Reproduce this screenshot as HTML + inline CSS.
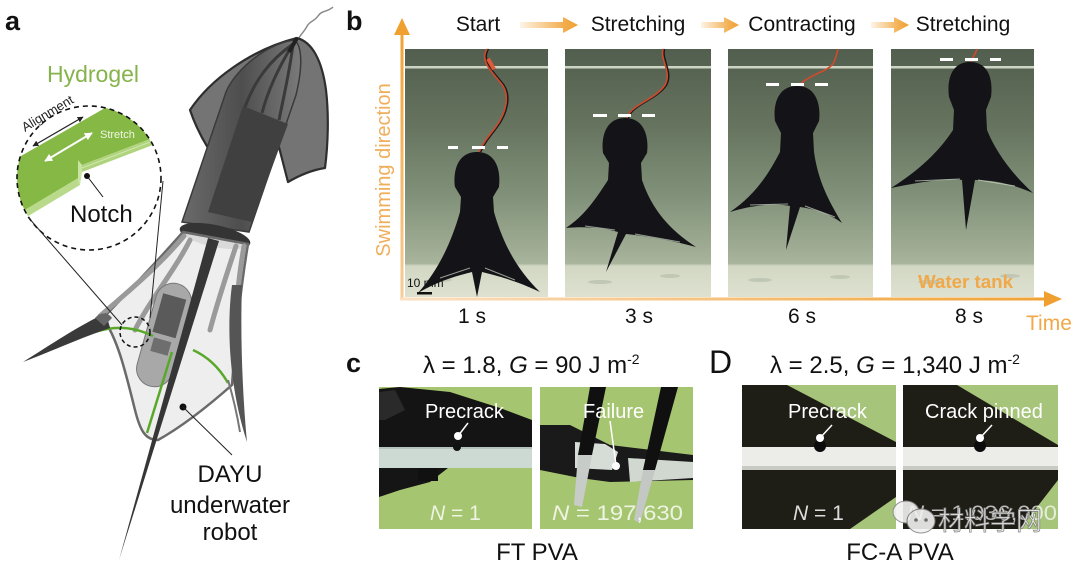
<!DOCTYPE html>
<html><head><meta charset="utf-8">
<style>
html,body{margin:0;padding:0;background:#fff;}
svg{display:block;}
text{font-family:"Liberation Sans","Noto Sans CJK SC",sans-serif;}
</style></head><body>
<svg width="1080" height="569" viewBox="0 0 1080 569" xmlns="http://www.w3.org/2000/svg">
<defs>
 <linearGradient id="tank" x1="0" y1="49" x2="0" y2="297" gradientUnits="userSpaceOnUse">
  <stop offset="0" stop-color="#525e4e"/>
  <stop offset="0.3" stop-color="#65735e"/>
  <stop offset="0.6" stop-color="#82927a"/>
  <stop offset="0.865" stop-color="#a8b49b"/>
  <stop offset="0.875" stop-color="#d2d7c3"/>
  <stop offset="1" stop-color="#dee1d0"/>
 </linearGradient>
 <linearGradient id="hArr" x1="400" y1="0" x2="1062" y2="0" gradientUnits="userSpaceOnUse">
  <stop offset="0" stop-color="#fbe0c2"/>
  <stop offset="1" stop-color="#f0a030"/>
 </linearGradient>
 <linearGradient id="vArr" x1="0" y1="299" x2="0" y2="18" gradientUnits="userSpaceOnUse">
  <stop offset="0" stop-color="#f6cc98"/>
  <stop offset="1" stop-color="#f0a030"/>
 </linearGradient>
 <linearGradient id="hdr" x1="0" y1="0" x2="1" y2="0">
  <stop offset="0" stop-color="#f0a030" stop-opacity="0.12"/>
  <stop offset="0.75" stop-color="#f0a030" stop-opacity="0.85"/>
  <stop offset="1" stop-color="#f0a030"/>
 </linearGradient>
 <linearGradient id="mant" x1="0" y1="0" x2="1" y2="0">
  <stop offset="0" stop-color="#6a6a6a"/>
  <stop offset="0.5" stop-color="#4e4e4e"/>
  <stop offset="1" stop-color="#7a7a7a"/>
 </linearGradient>
 <clipPath id="bigc"><circle cx="89" cy="178" r="72"/></clipPath>
 <marker id="mk" viewBox="0 0 10 10" refX="9" refY="5" markerWidth="5" markerHeight="5" orient="auto-start-reverse"><path d="M0,0 L10,5 L0,10 Z" fill="#222"/></marker>
 <marker id="mkw" viewBox="0 0 10 10" refX="9" refY="5" markerWidth="4" markerHeight="4" orient="auto-start-reverse"><path d="M0,0 L10,5 L0,10 Z" fill="#fff"/></marker>
</defs>

<!-- ================= PANEL A ================= -->
<text x="5" y="30" font-size="27" font-weight="bold" fill="#111">a</text>
<text x="47" y="82" font-size="23" fill="#86b34c">Hydrogel</text>

<g clip-path="url(#bigc)">
 <polygon points="0,168 112,104 200,104 200,120 82,165 80,177 0,225" fill="#86b846"/>
 <polygon points="0,225 80,177 80,185 0,233" fill="#b8da8a"/>
 <polygon points="82,165 200,120 200,127 82,172" fill="#b0d47e"/>
 <line x1="82" y1="168" x2="200" y2="123" stroke="#d8ecb8" stroke-width="0.8"/>
 <polygon points="78,160 82,165 82,172 80,185 78,182" fill="#c8e4a0"/>
</g>
<circle cx="89" cy="178" r="72" fill="none" stroke="#111" stroke-width="1.6" stroke-dasharray="5,4"/>
<line x1="33" y1="146" x2="83" y2="117" stroke="#222" stroke-width="1.2" marker-start="url(#mk)" marker-end="url(#mk)"/>
<text x="0" y="0" font-size="13" fill="#222" transform="translate(25,132) rotate(-31)">Alignment</text>
<line x1="45" y1="161" x2="92" y2="133" stroke="#fff" stroke-width="2" marker-start="url(#mkw)" marker-end="url(#mkw)"/>
<text x="100" y="138" font-size="11" fill="#eef6e0">Stretch</text>
<circle cx="87" cy="176" r="3" fill="#111"/>
<line x1="87" y1="176" x2="103" y2="197" stroke="#111" stroke-width="1"/>
<text x="70" y="222" font-size="24" fill="#111">Notch</text>

<!-- robot -->
<path d="M333,7 C328,12 322,10 318,16 C314,22 310,20 306,28 C303,33 300,35 298,40" fill="none" stroke="#8a8a8a" stroke-width="1.5"/>
<path d="M297,38 C312,42 322,60 326,90 C329,115 328,145 325,168 C312,170 300,175 288,182 L272,120 L236,114 C225,125 215,135 208,148 C200,135 194,122 190,110 C210,80 250,50 297,38 Z" fill="#747474" stroke="#2e2e2e" stroke-width="2.2" stroke-linejoin="round"/>
<path d="M295,40 C303,48 302,70 296,95 L249,232 L182,222 L226,92 C236,68 270,42 295,40 Z" fill="url(#mant)" stroke="#3a3a3a" stroke-width="1.5"/>
<polygon points="243,106 288,124 252,222 208,212" fill="#404040"/>
<g stroke="#3a3a3a" stroke-width="3" fill="none">
 <path d="M293,44 C270,60 255,80 245,107"/>
 <path d="M293,44 C280,65 268,90 262,113"/>
 <path d="M293,44 C290,70 284,95 279,120"/>
</g>
<path d="M297,38 L289,52" stroke="#222" stroke-width="4"/>
<ellipse cx="215" cy="236" rx="36" ry="11" transform="rotate(12 215 236)" fill="#343434"/>
<path d="M183,232 L248,244 C242,280 236,330 232,385 C215,400 185,425 158,440 C145,440 140,430 135,410 C125,370 118,340 103,318 C130,290 160,258 183,232 Z" fill="#ececec" fill-opacity="0.9" stroke="#6a6a6a" stroke-width="2.5"/>
<g stroke="#9a9a9a" stroke-width="5" fill="none" stroke-linecap="round">
 <path d="M184,236 C160,265 130,290 100,316"/>
 <path d="M190,240 C175,270 150,300 135,330"/>
 <path d="M244,246 C238,280 236,310 234,340"/>
 <path d="M236,246 C228,270 218,300 210,330"/>
</g>
<g transform="rotate(15.6 164 335)">
 <rect x="146" y="282" width="36" height="106" rx="18" fill="#a8a8a8" stroke="#777" stroke-width="1"/>
 <rect x="152" y="295" width="24" height="40" fill="#5a5a5a"/>
 <rect x="155" y="340" width="18" height="14" fill="#6e6e6e"/>
</g>
<g stroke="#5aa82a" stroke-width="2.5" fill="none">
 <path d="M95,332 Q125,322 153,336"/>
 <path d="M193,350 Q215,360 228,383"/>
 <path d="M172,352 L147,433"/>
</g>
<path d="M106,313 C80,325 50,345 23,362 C55,350 80,338 110,328 Z" fill="#3a3a3a"/>
<path d="M95,318 C100,312 108,312 112,318 L104,326 Z" fill="#666"/>
<path d="M232,285 C226,330 230,390 247,442 C243,400 240,340 242,285 Z" fill="#555"/>
<path d="M228,380 C234,400 238,420 240,432" stroke="#777" stroke-width="2" fill="none"/>
<polygon points="208,238 219,241 119,560" fill="#363636"/>
<circle cx="135" cy="332" r="15" fill="none" stroke="#111" stroke-width="1.5" stroke-dasharray="4,3"/>
<line x1="28" y1="217" x2="122" y2="325" stroke="#222" stroke-width="1"/>
<line x1="163" y1="181" x2="150" y2="318" stroke="#222" stroke-width="1"/>
<circle cx="183" cy="407" r="3.5" fill="#111"/>
<line x1="183" y1="407" x2="232" y2="455" stroke="#222" stroke-width="1"/>
<text x="230" y="482" font-size="24" fill="#111" text-anchor="middle">DAYU</text>
<text x="230" y="513" font-size="24" fill="#111" text-anchor="middle">underwater</text>
<text x="230" y="540" font-size="24" fill="#111" text-anchor="middle">robot</text>

<!-- ================= PANEL B ================= -->
<text x="346" y="30" font-size="27" font-weight="bold" fill="#111">b</text>
<text x="478" y="31" font-size="21" fill="#111" text-anchor="middle">Start</text>
<text x="638" y="31" font-size="21" fill="#111" text-anchor="middle">Stretching</text>
<text x="802" y="31" font-size="21" fill="#111" text-anchor="middle">Contracting</text>
<text x="963" y="31" font-size="21" fill="#111" text-anchor="middle">Stretching</text>
<path d="M520,22 L563,22 L563,17 L578,25 L563,33 L563,28 L520,28 Z" fill="url(#hdr)"/>
<path d="M701,22 L724,22 L724,17 L739,25 L724,33 L724,28 L701,28 Z" fill="url(#hdr)"/>
<path d="M871,22 L894,22 L894,17 L909,25 L894,33 L894,28 L871,28 Z" fill="url(#hdr)"/>

<rect x="405" y="49" width="143" height="248" fill="url(#tank)"/>
<rect x="565" y="49" width="146" height="248" fill="url(#tank)"/>
<rect x="728" y="49" width="145" height="248" fill="url(#tank)"/>
<rect x="891" y="49" width="143" height="248" fill="url(#tank)"/>
<g fill="#cdd4c4">
 <rect x="405" y="66" width="143" height="2.5"/>
 <rect x="565" y="66" width="146" height="2.5"/>
 <rect x="728" y="66" width="145" height="2.5"/>
 <rect x="891" y="66" width="143" height="2.5"/>
</g>
<g fill="#b7bfac" opacity="0.7">
 <ellipse cx="440" cy="280" rx="12" ry="2"/><ellipse cx="510" cy="275" rx="10" ry="2"/>
 <ellipse cx="600" cy="282" rx="12" ry="2"/><ellipse cx="670" cy="276" rx="10" ry="2"/>
 <ellipse cx="760" cy="280" rx="12" ry="2"/><ellipse cx="840" cy="277" rx="10" ry="2"/>
 <ellipse cx="930" cy="282" rx="12" ry="2"/><ellipse cx="1010" cy="276" rx="10" ry="2"/>
</g>

<g fill="none" stroke-width="1.6">
 <path d="M487,49 C480,60 490,70 500,82 C512,95 505,115 495,128 C488,137 483,143 479,152" stroke="#1a1a1a" transform="translate(1.5,0)"/>
 <path d="M487,49 C480,60 490,70 500,82 C512,95 505,115 495,128 C488,137 483,143 479,152" stroke="#d04a2c"/>
 <path d="M663,49 C660,60 672,72 665,85 C655,100 630,105 627,118" stroke="#1a1a1a" transform="translate(1.5,0)"/>
 <path d="M663,49 C660,60 672,72 665,85 C655,100 630,105 627,118" stroke="#d04a2c"/>
 <path d="M838,49 C835,60 835,65 825,70 C812,76 803,80 799,86" stroke="#d04a2c"/>
 <path d="M977,49 C975,55 972,58 971,62" stroke="#d04a2c"/>
</g>
<rect x="489" y="58" width="4" height="12" fill="#e05a3a" transform="rotate(-30 491 64)"/>

<g fill="#141418">
 <path d="M477,152 C497,152 501,172 499,187 L493,197 L494,212 L460,212 L461,197 L455,187 C453,172 457,152 477,152 Z"/>
 <path d="M460,212 C452,240 440,268 418,293 C440,280 460,275 472,272 L477,297 L482,272 C494,275 515,280 540,292 C515,268 502,240 494,212 Z"/>
 <path d="M625,118 C645,118 649,138 647,153 L641,163 L642,180 L608,180 L609,163 L603,153 C601,138 605,118 625,118 Z"/>
 <path d="M608,180 C595,200 585,215 566,228 C585,226 605,228 618,232 L606,272 L626,234 C645,236 670,240 696,247 C670,230 652,210 642,180 Z"/>
 <path d="M797,86 C817,86 821,106 819,121 L813,133 L814,152 L780,152 L781,133 L775,121 C773,106 777,86 797,86 Z"/>
 <path d="M780,152 C768,175 755,195 730,212 C752,205 775,203 790,206 L786,250 L800,207 C815,209 830,214 842,223 C828,200 818,180 814,152 Z"/>
 <path d="M970,62 C990,62 993,82 991,97 L986,110 L987,130 L953,130 L954,110 L949,97 C947,82 950,62 970,62 Z"/>
 <path d="M953,130 C940,150 920,170 891,188 C920,182 945,178 962,180 L966,230 L975,180 C995,180 1015,185 1033,193 C1010,172 995,150 987,130 Z"/>
</g>
<g stroke="#cfd8c8" stroke-width="1" opacity="0.7">
 <line x1="440" y1="278" x2="470" y2="268"/><line x1="485" y1="268" x2="515" y2="280"/>
 <line x1="585" y1="226" x2="615" y2="230"/><line x1="635" y1="234" x2="680" y2="242"/>
 <line x1="750" y1="205" x2="788" y2="204"/><line x1="805" y1="206" x2="835" y2="217"/>
 <line x1="915" y1="181" x2="960" y2="179"/><line x1="978" y1="180" x2="1015" y2="186"/>
</g>
<g fill="#fff">
 <rect x="448" y="146" width="10" height="3"/><rect x="472" y="146" width="13" height="3"/><rect x="497" y="146" width="11" height="3"/>
 <rect x="593" y="114" width="14" height="3"/><rect x="618" y="114" width="13" height="3"/><rect x="642" y="114" width="13" height="3"/>
 <rect x="766" y="83" width="13" height="3"/><rect x="791" y="83" width="13" height="3"/><rect x="815" y="83" width="13" height="3"/>
 <rect x="940" y="58" width="13" height="3"/><rect x="965" y="58" width="13" height="3"/><rect x="990" y="58" width="11" height="3"/>
</g>
<text x="407" y="287" font-size="12" fill="#111">10 mm</text>
<rect x="417" y="292" width="15" height="2.5" fill="#111"/>
<text x="918" y="288" font-size="18" font-weight="bold" fill="#f0a848" textLength="95" lengthAdjust="spacingAndGlyphs">Water tank</text>

<rect x="400.5" y="33" width="3" height="267" fill="url(#vArr)"/>
<polygon points="402,18 394,35 410,35" fill="#f0a030"/>
<rect x="400" y="297.5" width="646" height="3" fill="url(#hArr)"/>
<polygon points="1062,299 1044,291 1044,307" fill="#f0a030"/>
<text transform="translate(390,170) rotate(-90)" font-size="20" fill="#f0ae5a" text-anchor="middle">Swimming direction</text>
<text x="472" y="323" font-size="21" fill="#111" text-anchor="middle">1 s</text>
<text x="639" y="323" font-size="21" fill="#111" text-anchor="middle">3 s</text>
<text x="802" y="323" font-size="21" fill="#111" text-anchor="middle">6 s</text>
<text x="969" y="323" font-size="21" fill="#111" text-anchor="middle">8 s</text>
<text x="1026" y="330" font-size="21" fill="#f0a848">Time</text>

<!-- ================= PANEL C ================= -->
<text x="346" y="372" font-size="27" font-weight="bold" fill="#111">c</text>
<text x="423" y="373" font-size="24" fill="#111"><tspan>λ = 1.8, </tspan><tspan font-style="italic">G</tspan><tspan> = 90 J m</tspan><tspan font-size="14" dy="-9">-2</tspan></text>

<rect x="379" y="387" width="153" height="142" fill="#a6c570"/>
<polygon points="379,389 400,387 450,392 500,408 532,420 532,447 379,447" fill="#141414"/>
<polygon points="379,392 395,390 405,410 385,420 379,420" fill="#2a2a2a"/>
<polygon points="379,468 448,468 430,482 400,490 379,497" fill="#151515"/>
<rect x="418" y="466" width="20" height="15" fill="#111"/>
<rect x="379" y="447" width="153" height="21" fill="#cddad4"/>
<rect x="379" y="447" width="153" height="2" fill="#b4c4bc"/>
<circle cx="457" cy="447" r="4" fill="#111"/>
<line x1="468" y1="423" x2="458" y2="436" stroke="#fff" stroke-width="1.5"/>
<circle cx="458" cy="436" r="4" fill="#fff"/>
<text x="425" y="418" font-size="20" fill="#fff">Precrack</text>
<text x="430" y="520" font-size="21" fill="#fff" fill-opacity="0.8"><tspan font-style="italic">N</tspan> = 1</text>

<rect x="540" y="387" width="153" height="142" fill="#a6c570"/>
<polygon points="540,425 570,425 610,445 693,455 693,480 610,482 580,478 540,470" fill="#1a1a1a"/>
<polygon points="575,442 605,444 618,452 612,470 575,468" fill="#d6dcd6"/>
<polygon points="628,458 693,462 693,478 630,482" fill="#d0d8d0"/>
<polygon points="590,387 606,387 592,455 578,455" fill="#101010"/>
<polygon points="578,455 592,455 582,507 574,505" fill="#c8ccc8"/>
<polygon points="661,387 678,387 655,470 643,470" fill="#101010"/>
<polygon points="643,470 655,470 640,523 634,520" fill="#c4c8c4"/>
<line x1="610" y1="421" x2="616" y2="465" stroke="#fff" stroke-width="1.5"/>
<circle cx="616" cy="466" r="4" fill="#fff"/>
<text x="583" y="418" font-size="20" fill="#fff">Failure</text>
<text x="552" y="520" font-size="21" fill="#fff" fill-opacity="0.8" textLength="131" lengthAdjust="spacingAndGlyphs"><tspan font-style="italic">N</tspan> = 197,630</text>
<text x="537" y="560" font-size="24" fill="#111" text-anchor="middle">FT PVA</text>

<!-- ================= PANEL D ================= -->
<text x="709" y="373" font-size="32" fill="#111">D</text>
<text x="770" y="373" font-size="24" fill="#111"><tspan>λ = 2.5, </tspan><tspan font-style="italic">G</tspan><tspan> = 1,340 J m</tspan><tspan font-size="14" dy="-9">-2</tspan></text>

<rect x="742" y="385" width="154" height="144" fill="#1e1d16"/>
<polygon points="787,385 896,385 896,442" fill="#a6c47a"/>
<polygon points="850,529 896,529 896,497" fill="#a6c47a"/>
<rect x="742" y="447" width="154" height="23" fill="#ecede8"/>
<rect x="742" y="466" width="154" height="4" fill="#c8cac4"/>
<circle cx="820" cy="446" r="6" fill="#0c0c0c"/>
<line x1="832" y1="425" x2="820" y2="438" stroke="#fff" stroke-width="1.5"/>
<circle cx="820" cy="438" r="4" fill="#fff"/>
<text x="788" y="418" font-size="20" fill="#fff">Precrack</text>
<text x="793" y="520" font-size="21" fill="#fff" fill-opacity="0.85"><tspan font-style="italic">N</tspan> = 1</text>

<rect x="903" y="385" width="155" height="144" fill="#1e1d16"/>
<polygon points="957,385 1058,385 1058,445" fill="#a6c47a"/>
<polygon points="1020,529 1058,529 1058,480" fill="#a6c47a"/>
<rect x="903" y="447" width="155" height="23" fill="#ecede8"/>
<rect x="903" y="466" width="155" height="4" fill="#c8cac4"/>
<circle cx="980" cy="446" r="6" fill="#0c0c0c"/>
<line x1="992" y1="425" x2="980" y2="438" stroke="#fff" stroke-width="1.5"/>
<circle cx="980" cy="438" r="4" fill="#fff"/>
<text x="925" y="418" font-size="20" fill="#fff">Crack pinned</text>
<text x="907" y="520" font-size="21" fill="#fff" fill-opacity="0.7" textLength="150" lengthAdjust="spacingAndGlyphs"><tspan font-style="italic">N</tspan> = 1,036,000</text>
<g opacity="0.9">
 <ellipse cx="906" cy="512" rx="13" ry="11" fill="#f2f2f2" stroke="#888" stroke-width="1"/>
 <ellipse cx="921" cy="521" rx="14" ry="12" fill="#f2f2f2" stroke="#888" stroke-width="1"/>
 <circle cx="916" cy="520" r="1.8" fill="#777"/><circle cx="926" cy="520" r="1.8" fill="#777"/>
 <text x="938" y="530" font-size="26" fill="#ececec" stroke="#777" stroke-width="0.7" font-family="'Noto Sans CJK SC','WenQuanYi Zen Hei',sans-serif">材料学网</text>
</g>
<text x="900" y="560" font-size="24" fill="#111" text-anchor="middle">FC-A PVA</text>
</svg>
</body></html>
